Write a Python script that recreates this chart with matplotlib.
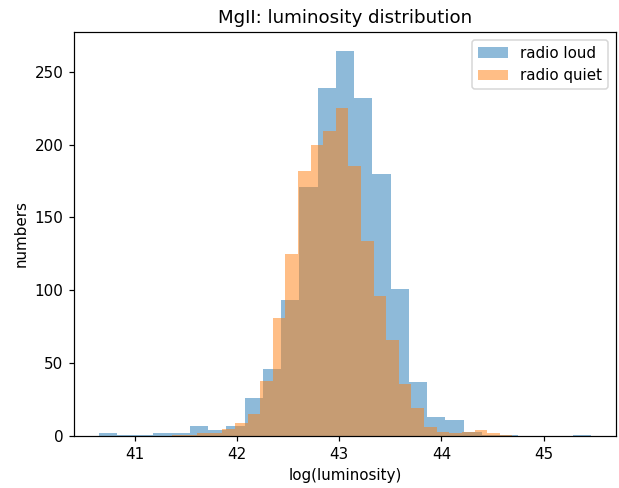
import numpy as np
import matplotlib
matplotlib.use("Agg")
import matplotlib.pyplot as plt

# histogram counts per bin, 27 equal-width bins spanning each sample's range
loud_range = (40.648, 45.466)
loud_counts = [2, 1, 1, 2, 2, 7, 4, 7, 26, 46, 93, 171, 239, 264, 232,
               180, 101, 37, 13, 11, 3, 1, 1, 0, 0, 0, 1]

quiet_range = (41.366, 44.693)
quiet_counts = [1, 1, 2, 2, 5, 9, 15, 38, 81, 125, 182, 200, 209, 225, 185,
                134, 96, 66, 36, 19, 6, 3, 2, 3, 4, 2, 1]

labels = ["radio loud", "radio quiet"]


def hist_from_counts(ax, rng, counts, label):
    edges = np.linspace(rng[0], rng[1], len(counts) + 1)
    centers = 0.5 * (edges[:-1] + edges[1:])
    ax.hist(centers, bins=edges, weights=counts, alpha=0.5, label=label)


dpi = 109.3
fig = plt.figure(figsize=(619 / dpi, 488 / dpi), dpi=dpi)
ax = fig.add_axes([74 / 619, 52 / 488, 542 / 619, 404 / 488])

hist_from_counts(ax, loud_range, loud_counts, labels[0])
hist_from_counts(ax, quiet_range, quiet_counts, labels[1])

ax.set_title("MgII: luminosity distribution")
ax.set_xlabel("log(luminosity)")
ax.set_ylabel("numbers")
ax.legend(loc="upper right")

fig.savefig("out.png", dpi=dpi)
